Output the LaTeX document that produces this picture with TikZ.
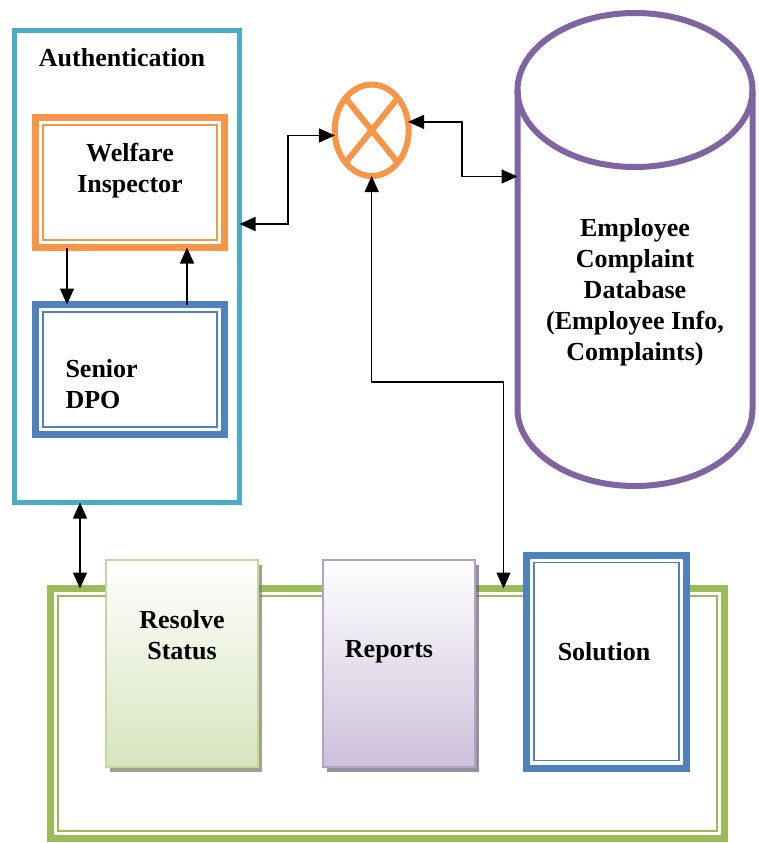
\documentclass[tikz,border=0pt]{standalone}
\usepackage{fontspec}
\setmainfont{Liberation Serif}
\usetikzlibrary{arrows.meta,shadows,shapes.geometric}
\definecolor{authcyan}{HTML}{4BACC6}
\definecolor{wiorange}{HTML}{F79646}
\definecolor{dpoblue}{HTML}{4F81BD}
\definecolor{dbpurple}{HTML}{8064A2}
\definecolor{actgreen}{HTML}{9BBB59}
\definecolor{resline}{HTML}{C3D69B}
\definecolor{resfill}{HTML}{D7E4BD}
\definecolor{repline}{HTML}{B3A2C7}
\definecolor{repfill}{HTML}{CCC0DA}
\tikzset{
  lbl/.style={font=\fontsize{26}{31}\selectfont\bfseries, align=center},
  frame/.style={draw=#1, line width=7pt, fill=white, outer sep=0pt, inner sep=0pt},
  tab/.style 2 args={draw=#1, line width=2pt, top color=white, bottom color=#2,
    drop shadow={shadow xshift=4pt, shadow yshift=-5pt, fill=#1!60!black, opacity=0.7},
    minimum width=152, minimum height=207, outer sep=0pt},
  conn/.style={line width=1.5pt, >={Triangle[length=16pt,width=14pt]}}
}
\begin{document}
\begin{tikzpicture}[x=1pt, y=-1pt]
\useasboundingbox (0,0) rectangle (758,843);
% authentication side
\node[draw=authcyan, line width=5pt, minimum width=225, minimum height=472, outer sep=0pt] (auth) at (127,266.5) {};
\node[lbl] (authtitle) at (122,58) {Authentication};
\node[frame=wiorange, minimum width=189, minimum height=130] (wi) at (130,182.5) {};
\node[frame=dpoblue, minimum width=189, minimum height=130] (dpo) at (130,369.5) {};
\foreach \n/\c in {wi/wiorange, dpo/dpoblue}
  \draw[\c, line width=1.5pt] ([shift={(7.5,7.5)}]\n.north west) rectangle ([shift={(-7.5,-7.5)}]\n.south east);
\node[lbl] (witext) at (130,171) {Welfare\\Inspector};
\node[lbl, align=left, anchor=west] (dpotext) at (62,384) {Senior\\DPO};
% mixer
\node[ellipse, draw=wiorange, line width=6pt, fill=white, minimum width=74, minimum height=91.4, inner sep=0pt, outer sep=0pt] (xcirc) at (371.7,130.3) {};
\draw[wiorange, line width=6pt] (xcirc.north west) -- (xcirc.south east) (xcirc.north east) -- (xcirc.south west);
% database
\node[minimum width=235, minimum height=473, inner sep=0pt, outer sep=0pt] (db) at (635,249.5) {};
\draw[dbpurple, line width=6pt] ([shift={(0,77)}]db.north) ellipse [x radius=117.5, y radius=77];
\draw[dbpurple, line width=6pt] ([shift={(0,77)}]db.north west) -- ([shift={(0,-77)}]db.south west)
  arc[start angle=180, end angle=0, x radius=117.5, y radius=77] -- ([shift={(0,77)}]db.north east);
\node[lbl] (dbtext) at (635,292.5) {Employee\\Complaint\\Database\\(Employee Info,\\Complaints)};
% actions
\node[frame=actgreen, minimum width=674, minimum height=250] (act) at (387.5,713.5) {};
\draw[actgreen, line width=1.5pt] ([shift={(7.5,7.5)}]act.north west) rectangle ([shift={(-7.5,-7.5)}]act.south east);
\node[tab={resline}{resfill}] (res) at (182,663.5) {};
\node[tab={repline}{repfill}] (rep) at (399,663.5) {};
\node[frame=dpoblue, minimum width=160, minimum height=213] (sol) at (606.5,661.5) {};
\draw[dpoblue, line width=1.5pt] ([shift={(7.5,7.5)}]sol.north west) rectangle ([shift={(-7.5,-7.5)}]sol.south east);
\node[lbl] (restext) at (182,635) {Resolve\\Status};
\node[lbl] (reptext) at (389,652) {Reports};
\node[lbl] (soltext) at (604,652) {Solution};
% connectors
\draw[conn, ->] ([shift={(-63,0)}]wi.south) -- ([shift={(-63,0)}]dpo.north);
\draw[conn, ->] ([shift={(57,0)}]dpo.north) -- ([shift={(57,0)}]wi.south);
\draw[conn, <->] ([shift={(0,-42.5)}]auth.east) -- ++(48.5,0) |- (xcirc.188);
\draw[conn, <->] (xcirc.13) -- ++(54,0) |- ([shift={(0,-73)}]db.west);
\draw[conn, <->] (xcirc.south) -- ++(0,206) -| ([shift={(116,0)}]act.north);
\draw[conn, <->] ([shift={(-47,0)}]auth.south) -- ([shift={(-307.5,0)}]act.north);
\end{tikzpicture}
\end{document}
